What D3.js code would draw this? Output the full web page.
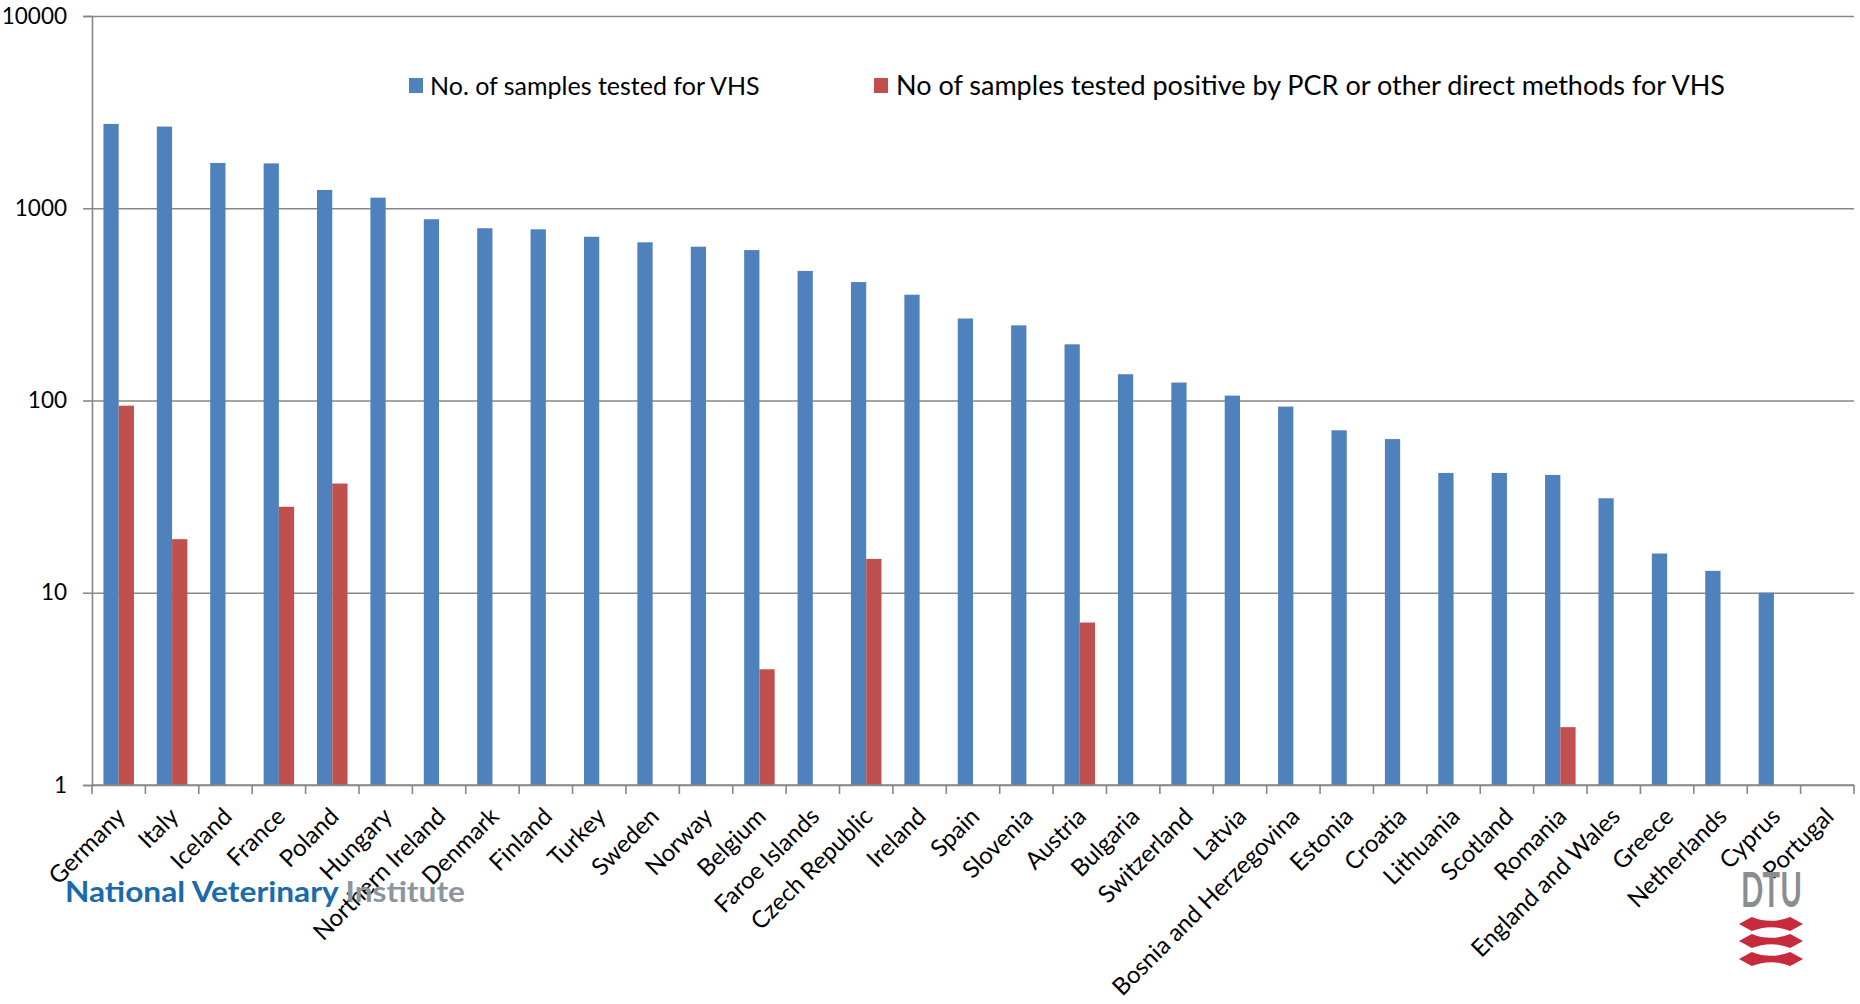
<!DOCTYPE html>
<html>
<head>
<meta charset="utf-8">
<script src="https://cdn.jsdelivr.net/npm/d3@7"></script>
<style>
  html, body { margin: 0; padding: 0; background: #fff; }
  svg { display: block; }
  text { font-family: Lato, "Open Sans", sans-serif; fill: #000; }
</style>
</head>
<body>
<svg id="chart" width="1860" height="1004"></svg>
<script>
const categories = ["Germany","Italy","Iceland","France","Poland","Hungary","Northern Ireland","Denmark","Finland","Turkey","Sweden","Norway","Belgium","Faroe Islands","Czech Republic","Ireland","Spain","Slovenia","Austria","Bulgaria","Switzerland","Latvia","Bosnia and Herzegovina","Estonia","Croatia","Lithuania","Scotland","Romania","England and Wales","Greece","Netherlands","Cyprus","Portugal"];
const tested = [2745,2660,1720,1712,1245,1135,877,787,777,711,665,631,606,472,413,355,267,246,196,137,124,106,93,70,63,42,42,41,31,16,13,10,null];
const positive = [94,19,null,28,37,null,null,null,null,null,null,null,4,null,15,null,null,null,7,null,null,null,null,null,null,null,null,2,null,null,null,null,null];
const seriesNames = ["No. of samples tested for VHS","No of samples tested positive by PCR or other direct methods for VHS"];
const seriesColors = ["#4F81BD","#C0504D"];
const yTicks = [1,10,100,1000,10000];
const yTickLabels = ["1","10","100","1000","10000"];

(function draw() {
const svg = d3.select("#chart");
const mLeft = 92, mRight = 1854, mTop = 16, mBottom = 785;
const gridColor = "#878787";

const x = d3.scaleBand().domain(categories).range([mLeft, mRight]).padding(0);
const bw = x.bandwidth();
const barW = bw / 3.5;
const x1 = d3.scaleBand().domain([0,1]).range([0.75*barW, 0.75*barW + 2*barW]).padding(0);
const y = d3.scaleLog().domain([1,10000]).range([mBottom, mTop]);

// gridlines
svg.append("g")
  .attr("transform", `translate(${mLeft},0)`)
  .call(d3.axisLeft(y).tickValues(yTicks).tickSize(-(mRight-mLeft)).tickFormat(""))
  .call(g => g.select(".domain").remove())
  .call(g => g.selectAll("line").attr("stroke", gridColor).attr("stroke-width", 1.6));

// bars
const data = [tested, positive];
data.forEach((vals, si) => {
  svg.append("g").selectAll("rect")
    .data(categories.map((c,i)=>({c, v: vals[i]})).filter(d => d.v != null))
    .join("rect")
    .attr("x", d => x(d.c) + x1(si))
    .attr("width", x1.bandwidth())
    .attr("y", d => y(d.v))
    .attr("height", d => y(1) - y(d.v))
    .attr("fill", seriesColors[si]);
});

// y axis
svg.append("g")
  .attr("transform", `translate(${mLeft},0)`)
  .call(d3.axisLeft(y).tickValues(yTicks).tickSize(9).tickPadding(16).tickFormat((d,i)=>yTickLabels[i]))
  .call(g => g.select(".domain").attr("stroke", gridColor).attr("stroke-width", 1.6))
  .call(g => g.selectAll("line").attr("stroke", gridColor).attr("stroke-width", 1.6))
  .call(g => g.selectAll("text").attr("font-size", 22.5).attr("font-family", "Lato").attr("fill","#000"));

// x axis baseline + ticks
const xAxisG = svg.append("g");
xAxisG.append("line").attr("x1", mLeft).attr("x2", mRight).attr("y1", y(1)).attr("y2", y(1))
  .attr("stroke", gridColor).attr("stroke-width", 1.6);
const bounds = categories.map(c => x(c)).concat([x(categories[categories.length-1]) + bw]);
xAxisG.selectAll(".tk").data(bounds).join("line")
  .attr("x1", d=>d).attr("x2", d=>d).attr("y1", y(1)).attr("y2", y(1)+9)
  .attr("stroke", gridColor).attr("stroke-width", 1.6);
xAxisG.selectAll(".lbl").data(categories).join("text")
  .attr("transform", d => `translate(${x(d) + bw/2 + 2},${y(1) + 27}) rotate(-45)`)
  .attr("text-anchor", "end")
  .attr("dy", "0.35em")
  .attr("font-size", 24)
  .text(d => d);

// legend
const legend = svg.append("g");
const legendItems = [{x: 409, tx: 430, fs: 25}, {x: 874, tx: 896, fs: 27}];
legendItems.forEach((it, i) => {
  legend.append("rect").attr("x", it.x).attr("y", 78).attr("width", 14).attr("height", 15).attr("fill", seriesColors[i]);
  legend.append("text").attr("x", it.tx).attr("y", 86).attr("dy","0.35em").attr("font-size", it.fs).text(seriesNames[i]);
});

// NVI logo
const nvi = svg.append("text").attr("x", 65).attr("y", 902)
  .attr("font-size", 29).attr("font-weight", 700)
  .attr("textLength", 400).attr("lengthAdjust", "spacingAndGlyphs");
nvi.append("tspan").style("fill","#1a6aad").text("National Veterinary ");
nvi.append("tspan").style("fill","#8c959d").text("Institute");

// DTU logo
svg.append("text").attr("x", 1741).attr("y", 907)
  .attr("font-size", 48).attr("font-weight", 700)
  .attr("textLength", 61).attr("lengthAdjust", "spacingAndGlyphs")
  .style("fill", "#8a8d90").text("DTU");
const dtuRed = svg.append("g").attr("fill", "#c62a3c");
[924, 941, 959].forEach(cy => {
  const x0 = 1739, x1p = 1803, w = x1p - x0, h = 14;
  dtuRed.append("path").attr("d",
    `M${x0},${cy} L${x0+w*0.2},${cy-h/2} Q${x0+w/2},${cy+h*0.05} ${x0+w*0.8},${cy-h/2} L${x1p},${cy} L${x0+w*0.8},${cy+h/2} Q${x0+w/2},${cy-h*0.05} ${x0+w*0.2},${cy+h/2} Z`);
});
})();
</script>
</body>
</html>
